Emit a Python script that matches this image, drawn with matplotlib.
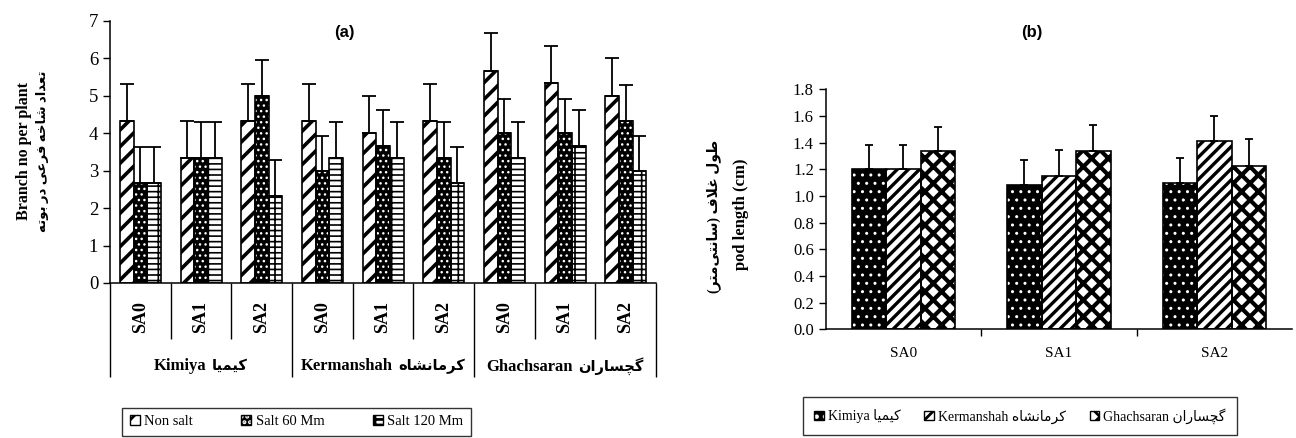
import numpy as np
import matplotlib
matplotlib.use("Agg")
import matplotlib.pyplot as plt
import matplotlib.transforms as mtransforms
from matplotlib.patches import Patch
from matplotlib.legend_handler import HandlerTuple
from matplotlib.offsetbox import TextArea, HPacker, AnnotationBbox

plt.rcParams['font.family'] = ['Liberation Serif', 'DejaVu Sans']
plt.rcParams['hatch.linewidth'] = 2.0

# ---- data: panel (a) branch number per plant ----
cultivars_en = ['Kimiya', 'Kermanshah', 'Ghachsaran']
cultivars_fa = ['کیمیا', 'کرمانشاه', 'گچساران']
treatments = ['SA0', 'SA1', 'SA2']
salt_labels = ['Non salt', 'Salt 60 Mm', 'Salt 120 Mm']

branch_non = [4.33, 3.33, 4.33, 4.33, 4.0, 4.33, 5.67, 5.33, 5.0]
branch_non_err = [0.98, 1.0, 0.98, 0.98, 1.0, 0.99, 1.0, 0.99, 1.0]
branch_60 = [2.67, 3.33, 5.0, 3.0, 3.67, 3.33, 4.0, 4.0, 4.33]
branch_60_err = [0.95, 0.96, 0.96, 0.93, 0.95, 0.96, 0.92, 0.92, 0.95]
branch_120 = [2.67, 3.33, 2.33, 3.33, 3.33, 2.67, 3.33, 3.67, 3.0]
branch_120_err = [0.95, 0.96, 0.96, 0.96, 0.96, 0.95, 0.96, 0.94, 0.93]

# ---- data: panel (b) pod length ----
pod_kimiya = [1.20, 1.08, 1.10]
pod_kimiya_err = [0.185, 0.19, 0.185]
pod_kerman = [1.20, 1.15, 1.41]
pod_kerman_err = [0.185, 0.195, 0.19]
pod_ghach = [1.34, 1.34, 1.225]
pod_ghach_err = [0.18, 0.19, 0.2]

ylabel_a_en = 'Branch no per plant'
ylabel_a_fa = 'تعداد شاخه فرعی در بوته'
ylabel_b_en = 'pod length (cm)'
ylabel_b_fa = 'طول غلاف (سانتی\u200cمتر)'

# matplotlib has no arabic shaping, so pick presentation forms by hand
# (isolated, final, initial, medial); right-joining letters have no initial/medial
FORMS = {
    'ا': (0xFE8D, 0xFE8E, None, None),
    'د': (0xFEA9, 0xFEAA, None, None),
    'ر': (0xFEAD, 0xFEAE, None, None),
    'و': (0xFEED, 0xFEEE, None, None),
    'ب': (0xFE8F, 0xFE90, 0xFE91, 0xFE92),
    'ت': (0xFE95, 0xFE96, 0xFE97, 0xFE98),
    'خ': (0xFEA5, 0xFEA6, 0xFEA7, 0xFEA8),
    'س': (0xFEB1, 0xFEB2, 0xFEB3, 0xFEB4),
    'ش': (0xFEB5, 0xFEB6, 0xFEB7, 0xFEB8),
    'ط': (0xFEC1, 0xFEC2, 0xFEC3, 0xFEC4),
    'ع': (0xFEC9, 0xFECA, 0xFECB, 0xFECC),
    'غ': (0xFECD, 0xFECE, 0xFECF, 0xFED0),
    'ف': (0xFED1, 0xFED2, 0xFED3, 0xFED4),
    'ل': (0xFEDD, 0xFEDE, 0xFEDF, 0xFEE0),
    'م': (0xFEE1, 0xFEE2, 0xFEE3, 0xFEE4),
    'ن': (0xFEE5, 0xFEE6, 0xFEE7, 0xFEE8),
    'ه': (0xFEE9, 0xFEEA, 0xFEEB, 0xFEEC),
    'ی': (0xFBFC, 0xFBFD, 0xFBFE, 0xFBFF),
    'ک': (0xFB8E, 0xFB8F, 0xFB90, 0xFB91),
    'گ': (0xFB92, 0xFB93, 0xFB94, 0xFB95),
    'چ': (0xFB7A, 0xFB7B, 0xFB7C, 0xFB7D),
}


def fa(text):
    out = []
    i = 0
    while i < len(text):
        c = text[i]
        prev = text[i - 1] if i > 0 else ''
        nxt = text[i + 1] if i + 1 < len(text) else ''
        join_prev = prev in FORMS and FORMS[prev][2] is not None
        if c == '\u200c':
            i += 1
            continue
        if c not in FORMS:
            out.append(c)
            i += 1
            continue
        if c == 'ل' and nxt == 'ا':
            out.append(chr(0xFEFC if join_prev else 0xFEFB))
            i += 2
            continue
        iso, fin, ini, med = FORMS[c]
        join_next = ini is not None and nxt in FORMS
        if join_prev and join_next:
            g = med
        elif join_prev:
            g = fin
        elif join_next:
            g = ini
        else:
            g = iso
        out.append(chr(g))
        i += 1
    s = ''.join(reversed(out))
    return s.replace('(', '\0').replace(')', '(').replace('\0', ')')


def pbars(ax, x, h, w, err, style, capsize):
    face, hcol, hatch, hlw = style
    bars = ax.bar(x, h, w, color=face, edgecolor=hcol, hatch=hatch, lw=0, zorder=2)
    for b in bars:
        if hasattr(b, 'set_hatch_linewidth'):
            b.set_hatch_linewidth(hlw)
    ax.bar(x, h, w, fill=False, edgecolor='black', lw=1.2, zorder=3)
    ax.errorbar(x, h, yerr=[np.zeros(len(h)), err], fmt='none', ecolor='black',
                elinewidth=1.3, capsize=capsize, capthick=1.3, zorder=4)


def handle(style):
    face, hcol, hatch, hlw = style
    return (Patch(facecolor=face, edgecolor=hcol, hatch=hatch, lw=0),
            Patch(fill=False, edgecolor='black', lw=1.0))


fig = plt.figure(figsize=(12.96, 4.38), dpi=100)

# ---------------- panel (a) ----------------
ax1 = fig.add_axes([0.0849, 0.3539, 0.4213, 0.5982])
styles_a = [('white', 'black', '//', 2.6),
            ('black', 'white', '...', 1.0),
            ('white', 'black', '---|', 1.2)]
n = len(branch_non)
xc = np.arange(n) + 0.5
w = 0.225
pbars(ax1, xc - w, branch_non, w, branch_non_err, styles_a[0], 4.8)
pbars(ax1, xc, branch_60, w, branch_60_err, styles_a[1], 4.8)
pbars(ax1, xc + w, branch_120, w, branch_120_err, styles_a[2], 4.8)

ax1.set_xlim(0, n)
ax1.set_ylim(0, 7)
ax1.set_yticks(range(8))
ax1.tick_params(axis='y', labelsize=13.5, length=5, width=1, direction='out')
ax1.set_xticks([0, 3, 6, 9])
ax1.set_xticks([1, 2, 4, 5, 7, 8], minor=True)
ax1.tick_params(axis='x', which='major', length=68, width=1, labelbottom=False)
ax1.tick_params(axis='x', which='minor', length=40, width=1, labelbottom=False)
for s in ['top', 'right']:
    ax1.spines[s].set_visible(False)
for s in ['left', 'bottom']:
    ax1.spines[s].set_linewidth(1.1)

trans = mtransforms.blended_transform_factory(ax1.transData, ax1.transAxes)
for i in range(n):
    ax1.text(xc[i], -0.13, treatments[i % 3], transform=trans, rotation=90,
             ha='center', va='center', fontsize=13, fontweight='bold')
for g in range(3):
    box = HPacker(children=[
        TextArea(cultivars_en[g], textprops=dict(fontsize=12, fontweight='bold')),
        TextArea(fa(cultivars_fa[g]), textprops=dict(fontsize=10.5, fontweight='bold'))],
        sep=4, pad=0, align='baseline')
    ax1.add_artist(AnnotationBbox(box, (3 * g + 1.5, -0.317), xycoords=trans,
                                  frameon=False, box_alignment=(0.5, 0.5), pad=0,
                                  annotation_clip=False))

ax1.text(0.43, 0.955, '(a)', transform=ax1.transAxes, ha='center', va='center',
         fontsize=12, fontweight='bold', family=['Liberation Sans'])

fig.text(0.0185, 0.655, ylabel_a_en, rotation=90, ha='center', va='center',
         fontsize=11.5, fontweight='bold')
fig.text(0.0325, 0.655, fa(ylabel_a_fa), rotation=90, ha='center', va='center',
         fontsize=9.5, fontweight='bold')

leg1 = fig.legend([handle(s) for s in styles_a], salt_labels, ncol=3,
                  loc='upper center', bbox_to_anchor=(0.2288, 0.0685),
                  handler_map={tuple: HandlerTuple(ndivide=1, pad=0)},
                  frameon=True, fancybox=False, edgecolor='black',
                  handlelength=0.7, handleheight=0.7, handletextpad=0.3,
                  columnspacing=3.3, borderpad=0.5, borderaxespad=0,
                  prop={'size': 10.5})
leg1.get_frame().set_linewidth(1.0)

# ---------------- panel (b) ----------------
ax2 = fig.add_axes([0.6371, 0.2482, 0.3599, 0.5480])
styles_b = [('black', 'white', '..', 1.0),
            ('white', 'black', '///', 2.4),
            ('white', 'black', 'xx', 3.0)]
m = len(pod_kimiya)
xb = np.arange(m)
wb = 0.222
pbars(ax2, xb - wb, pod_kimiya, wb, pod_kimiya_err, styles_b[0], 3.2)
pbars(ax2, xb, pod_kerman, wb, pod_kerman_err, styles_b[1], 3.2)
pbars(ax2, xb + wb, pod_ghach, wb, pod_ghach_err, styles_b[2], 3.2)

ax2.set_xlim(-0.5, m - 0.5)
ax2.set_ylim(0, 1.8)
ax2.set_yticks(np.arange(0, 1.81, 0.2))
ax2.set_yticklabels(['%.1f' % v for v in np.arange(0, 1.81, 0.2)])
ax2.tick_params(axis='y', labelsize=12, length=5, width=1, direction='out')
ax2.set_xticks([0.5, 1.5])
ax2.tick_params(axis='x', which='major', length=5, width=1, labelbottom=False)
ax2.set_xticks(xb, minor=True)
ax2.set_xticklabels(treatments, minor=True)
ax2.tick_params(axis='x', which='minor', length=0, pad=13, labelsize=11)
for s in ['top', 'right']:
    ax2.spines[s].set_visible(False)
for s in ['left', 'bottom']:
    ax2.spines[s].set_linewidth(1.1)

fig.text(0.796, 0.925, '(b)', ha='center', va='center', fontsize=12,
         fontweight='bold', family=['Liberation Sans'])
fig.text(0.5718, 0.511, ylabel_b_en, rotation=90, ha='center', va='center',
         fontsize=12, fontweight='bold')
fig.text(0.551, 0.505, fa(ylabel_b_fa), rotation=90, ha='center', va='center',
         fontsize=10, fontweight='bold')

leg2 = fig.legend([handle(s) for s in styles_b],
                  [cultivars_en[k] + ' ' + fa(cultivars_fa[k]) for k in range(3)],
                  ncol=3, loc='upper center', bbox_to_anchor=(0.787, 0.0943),
                  handler_map={tuple: HandlerTuple(ndivide=1, pad=0)},
                  frameon=True, fancybox=False, edgecolor='black',
                  handlelength=0.7, handleheight=0.7, handletextpad=0.3,
                  columnspacing=1.7, borderpad=0.8, borderaxespad=0,
                  prop={'size': 10})
leg2.get_frame().set_linewidth(1.0)

fig.savefig('out.png', dpi=100)
